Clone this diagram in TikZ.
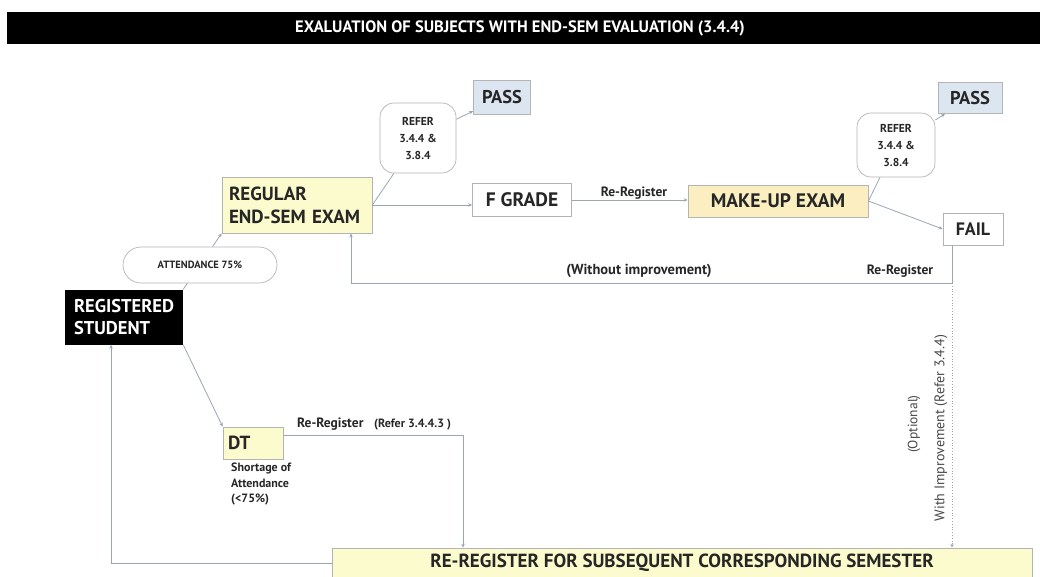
\documentclass[tikz,border=0pt]{standalone}
\usepackage{fontspec}
\setmainfont{PT Sans}
\usetikzlibrary{arrows.meta}
\definecolor{lnc}{HTML}{9AA6B4}
\definecolor{bdr}{HTML}{B4B4B4}
\definecolor{yel}{HTML}{FCFBCD}
\definecolor{org}{HTML}{FBEFC2}
\definecolor{blu}{HTML}{DCE6F1}
\definecolor{txt}{HTML}{262626}
\tikzset{
  conn/.style={draw=lnc, line width=0.8pt},
  arr/.style={conn, -{Stealth[length=4pt,width=3.5pt]}},
  box/.style={draw=bdr, line width=0.7pt, inner sep=0pt, text=txt, font=\bfseries},
  refer/.style={draw=bdr, line width=0.7pt, rounded corners=14pt, fill=white, align=center, text=txt, font=\bfseries\fontsize{11.5}{17}\selectfont, inner sep=0pt},
  lbl/.style={text=txt, font=\bfseries\fontsize{13.5}{15}\selectfont, inner sep=0pt},
}
\begin{document}
\begin{tikzpicture}[x=1pt,y=-1pt]
\useasboundingbox (0,0) rectangle (1040,576);
% title
\node[fill=black, minimum width=1033pt, minimum height=32pt, inner sep=0pt] (titlebar) at (523.5,28) {};
\node[text=white, font=\bfseries\fontsize{16.5}{18}\selectfont, inner sep=0pt] (title) at (520,28) {EXALUATION OF SUBJECTS WITH END-SEM EVALUATION (3.4.4)};
% nodes
\node[box, fill=blu, minimum width=57pt, minimum height=34pt, font=\bfseries\fontsize{18.5}{20}\selectfont] (pass1) at (502,97) {PASS};
\node[refer, minimum width=76pt, minimum height=70pt] (refer1) at (418,138) {REFER\\3.4.4 \&\\3.8.4};
\node[box, fill=yel, minimum width=150pt, minimum height=56pt, align=left, text width=136pt, font=\bfseries\fontsize{19}{23}\selectfont] (regular) at (297,205) {REGULAR\\END-SEM EXAM};
\node[box, fill=white, minimum width=99pt, minimum height=33pt, font=\bfseries\fontsize{19.5}{21}\selectfont] (fgrade) at (522,200) {F GRADE};
\node[box, fill=org, minimum width=180pt, minimum height=32pt, font=\bfseries\fontsize{19.5}{21}\selectfont] (makeup) at (778,201) {MAKE-UP EXAM};
\node[refer, minimum width=78pt, minimum height=64pt] (refer2) at (896,145) {REFER\\3.4.4 \&\\3.8.4};
\node[box, fill=blu, minimum width=64pt, minimum height=31pt, font=\bfseries\fontsize{18.5}{20}\selectfont] (pass2) at (970,98) {PASS};
\node[box, fill=white, minimum width=60pt, minimum height=32pt, font=\bfseries\fontsize{18}{20}\selectfont] (fail) at (973,229) {FAIL};
\node[draw=bdr, line width=0.7pt, rounded corners=18pt, fill=white, minimum width=154pt, minimum height=36pt, inner sep=0pt, text=txt, font=\bfseries\fontsize{10.5}{12}\selectfont] (attend) at (200,265) {ATTENDANCE 75\%};
\node[fill=black, minimum width=118pt, minimum height=55pt, inner sep=0pt, align=left, text width=100pt, text=white, font=\bfseries\fontsize{18.5}{22}\selectfont] (regstud) at (124,317) {REGISTERED\\STUDENT};
\node[box, fill=yel, minimum width=60pt, minimum height=32pt, align=left, text width=50pt, font=\bfseries\fontsize{19}{21}\selectfont] (dt) at (253,443) {DT};
\node[anchor=north west, align=left, text=txt, inner sep=0pt, font=\bfseries\fontsize{12}{15.5}\selectfont] (short) at (231,463) {Shortage of\\Attendance\\(<75\%)};
\node[box, fill=yel, minimum width=700pt, minimum height=30pt, font=\bfseries\fontsize{19}{21}\selectfont] (rereg) at (682,563) {RE-REGISTER FOR SUBSEQUENT CORRESPONDING SEMESTER};
% connectors
\draw[conn] (regular.east) -- (refer1);
\draw[arr] (refer1) -- (pass1);
\draw[arr] (regular.east) -- (fgrade.west |- regular.east);
\draw[arr] (fgrade.east) -- (makeup.west |- fgrade.east);
\node[lbl] (lre1) at (634,193) {Re-Register};
\draw[conn] (makeup.east) -- (refer2);
\draw[arr] (refer2) -- (pass2);
\draw[arr] (makeup.east) -- (fail.west);
\coordinate (c1) at (952,283);
\coordinate (c2) at (351,283);
\draw[arr] (c1 |- fail.south) -- (c1) -- (c2) -- (c2 |- regular.south);
\node[lbl, font=\bfseries\fontsize{14.5}{16}\selectfont] (lwo) at (639,271) {(Without improvement)};
\node[lbl] (lre2) at (900,271) {Re-Register};
\draw[arr, dotted] (c1) -- (c1 |- rereg.north);
\node[rotate=90, text=txt!85, inner sep=0pt, font=\fontsize{13.5}{15}\selectfont] (lopt) at (914,424) {(Optional)};
\node[rotate=90, text=txt!85, inner sep=0pt, font=\fontsize{14}{15}\selectfont] (lwith) at (941,428) {With Improvement (Refer 3.4.4)};
\draw[conn] (regstud.north east) -- (attend);
\draw[arr] (attend) -- (regular.south west);
\draw[arr] (regstud.south east) -- (dt.north west);
\coordinate (c3) at (463,435);
\draw[arr] (dt.east |- c3) -- (c3) -- (c3 |- rereg.north);
\node[lbl, anchor=base west] (lre3) at (297,427) {Re-Register};
\node[lbl, anchor=base west, font=\bfseries\fontsize{12}{14}\selectfont] (lref) at (374,427) {(Refer 3.4.4.3 )};
\coordinate (c4) at (111,563);
\draw[arr] (rereg.west |- c4) -- (c4) -- (c4 |- regstud.south);
\end{tikzpicture}
\end{document}
